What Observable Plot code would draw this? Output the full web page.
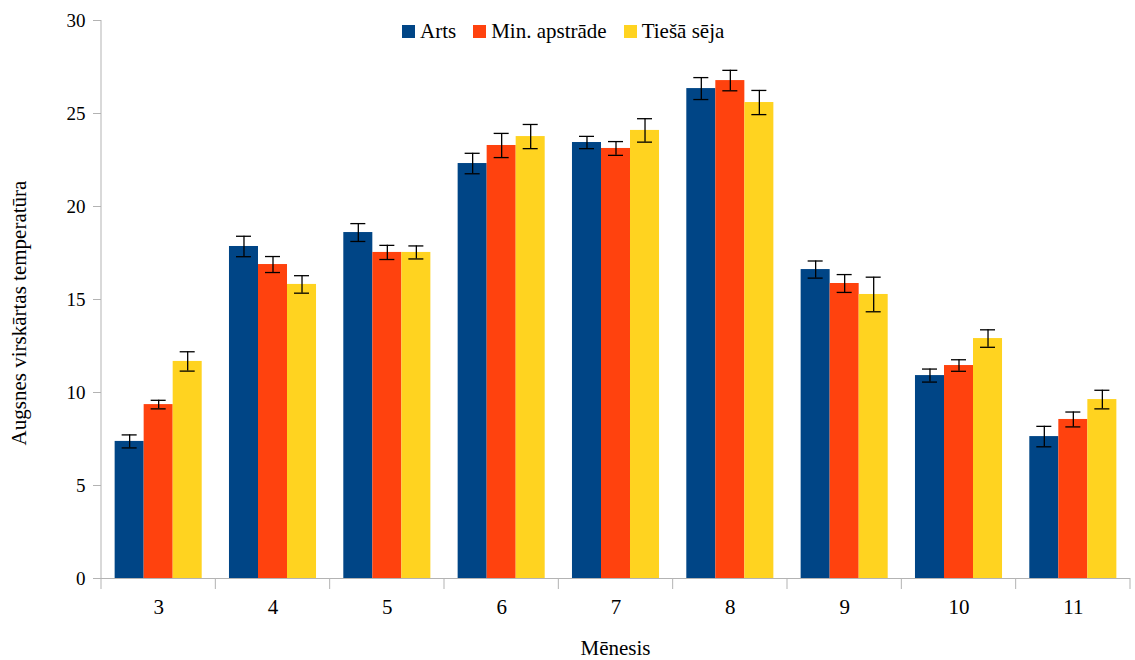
<!DOCTYPE html>
<html><head><meta charset="utf-8">
<script src="https://cdn.jsdelivr.net/npm/d3@7"></script>
<script src="https://cdn.jsdelivr.net/npm/@observablehq/plot@0.6"></script>
<style>
body{margin:0;background:#fff;font-family:"Liberation Serif","Times New Roman",serif;}
#wrap{position:relative;width:1135px;height:660px;}
#wrap svg, #wrap svg text, #wrap svg g{font-family:"Liberation Serif","Times New Roman",serif !important;}
#legend{position:absolute;left:402px;top:20px;display:flex;align-items:center;font-size:21px;color:#000;line-height:22px;}
.sw{display:inline-block;width:13px;height:13px;margin-right:5px}
.item{display:flex;align-items:center;margin-right:17px}
</style></head><body><div id="wrap"><div id="legend"></div></div>
<script>
const months = [3, 4, 5, 6, 7, 8, 9, 10, 11];
const seriesNames = ["Arts", "Min. apstrāde", "Tiešā sēja"];
const colors = ["#004586", "#ff420e", "#ffd320"];
const arts = [7.37, 17.85, 18.6, 22.31, 23.44, 26.34, 16.61, 10.91, 7.63];
const artsErr = [0.35, 0.55, 0.48, 0.55, 0.33, 0.59, 0.46, 0.35, 0.55];
const minApstrade = [9.35, 16.88, 17.53, 23.28, 23.12, 26.77, 15.86, 11.45, 8.55];
const minApstradeErr = [0.23, 0.43, 0.38, 0.65, 0.37, 0.55, 0.48, 0.31, 0.4];
const tiesaSeja = [11.67, 15.81, 17.53, 23.76, 24.09, 25.59, 15.27, 12.9, 9.62];
const tiesaSejaErr = [0.52, 0.47, 0.35, 0.65, 0.63, 0.65, 0.93, 0.47, 0.5];
const yTicks = [0, 5, 10, 15, 20, 25, 30];

const seriesValues = [arts, minApstrade, tiesaSeja];
const seriesErrs = [artsErr, minApstradeErr, tiesaSejaErr];
const rows = [];
months.forEach((m, i) => {
  seriesNames.forEach((s, j) => {
    const v = seriesValues[j][i], e = seriesErrs[j][i];
    rows.push({month: m, series: s, value: v, lo: v - e, hi: v + e});
  });
});

const serif = "Liberation Serif";
const axisGrey = "#b3b3b3";
const chart = Plot.plot({
  width: 1135, height: 660,
  marginLeft: 101, marginRight: 5, marginTop: 20, marginBottom: 82,
  style: {fontFamily: serif, fontSize: "19px", color: "#000", background: "#fff"},
  fx: {domain: months, padding: 0, round: false},
  x: {domain: seriesNames, paddingInner: 0, paddingOuter: 0.47, axis: null, round: false},
  y: {domain: [0, 30]},
  color: {domain: seriesNames, range: colors},
  marks: [
    Plot.barY(rows, {fx: "month", x: "series", y: "value", fill: "series"}),
    Plot.ruleX(rows, {fx: "month", x: "series", y1: "lo", y2: "hi", stroke: "#000", strokeWidth: 1.3}),
    Plot.tickY(rows, {fx: "month", x: "series", y: "lo", stroke: "#000", strokeWidth: 1.3, insetLeft: 7, insetRight: 7}),
    Plot.tickY(rows, {fx: "month", x: "series", y: "hi", stroke: "#000", strokeWidth: 1.3, insetLeft: 7, insetRight: 7}),
    Plot.ruleY([0], {stroke: axisGrey}),
    Plot.axisY({ticks: yTicks, tickSize: 8, tickPadding: 8, stroke: axisGrey, fill: "#000", fontSize: 19,
      fontFamily: serif, label: null}),
    Plot.axisFx({anchor: "bottom", tickSize: 0, tickPadding: 21, fontSize: 21, fontFamily: serif, label: null})
  ]
});

document.getElementById("wrap").appendChild(chart);

// x-axis boundary ticks, y-axis line and axis titles positioned from the plot's own scales
const fx = chart.scale("fx"), ys = chart.scale("y");
const svg = d3.select(chart);
const y0 = ys.apply(0), yTop = ys.apply(30);
const bounds = months.map(m => fx.apply(m));
const xEnd = fx.apply(months[months.length - 1]) + fx.bandwidth;
bounds.push(xEnd);
svg.append("g").attr("stroke", axisGrey).selectAll("line").data(bounds).join("line")
  .attr("x1", d => d).attr("x2", d => d).attr("y1", y0).attr("y2", y0 + 11);
svg.append("line").attr("stroke", axisGrey)
  .attr("x1", bounds[0]).attr("x2", bounds[0]).attr("y1", yTop).attr("y2", y0);
svg.append("text").text("Mēnesis").attr("text-anchor", "middle").attr("font-size", 21)
  .attr("font-family", serif).attr("x", (bounds[0] + xEnd) / 2).attr("y", y0 + 77);
svg.append("text").text("Augsnes virskārtas temperatūra").attr("text-anchor", "middle").attr("font-size", 21)
  .attr("font-family", serif).attr("transform", `translate(26,${(y0 + yTop) / 2 + 14}) rotate(-90)`);

const legend = d3.select("#legend");
seriesNames.forEach((s, i) => {
  const it = legend.append("div").attr("class", "item");
  it.append("span").attr("class", "sw").style("background", colors[i]);
  it.append("span").text(s);
});
</script></body></html>
